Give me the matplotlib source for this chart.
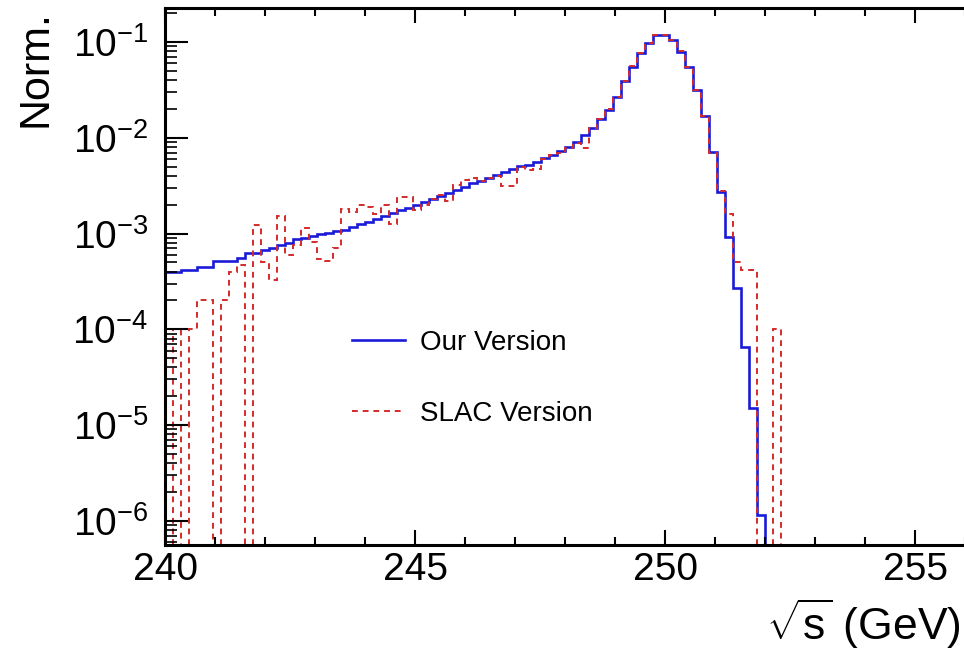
import numpy as np
import matplotlib
matplotlib.use("Agg")
import matplotlib.pyplot as plt
from matplotlib.ticker import MultipleLocator, LogLocator, NullFormatter


# fonts: Helvetica-like look
plt.rcParams['font.family'] = ['Liberation Sans', 'DejaVu Sans']
plt.rcParams['mathtext.fontset'] = 'custom'
plt.rcParams['mathtext.rm'] = 'Liberation Sans'
plt.rcParams['mathtext.default'] = 'regular'
plt.rcParams['axes.unicode_minus'] = False


# binning: 100 bins from 240 to 256 GeV
x_min, x_max, n_bins = 240.0, 256.0, 100
edges = np.linspace(x_min, x_max, n_bins + 1)

# normalised sqrt(s) spectrum (0 = empty bin)
our_version = [
    4.0e-4, 4.0e-4, 4.2e-4, 4.2e-4, 4.5e-4, 4.5e-4, 5.2e-4, 5.2e-4, 5.2e-4, 5.6e-4,
    6.2e-4, 6.3e-4, 6.8e-4, 7.1e-4, 7.6e-4, 7.9e-4, 8.7e-4, 8.9e-4, 9.5e-4, 1.0e-3,
    1.02e-3, 1.05e-3, 1.10e-3, 1.17e-3, 1.26e-3, 1.32e-3, 1.41e-3, 1.51e-3, 1.62e-3, 1.74e-3,
    1.86e-3, 2.00e-3, 2.14e-3, 2.29e-3, 2.45e-3, 2.63e-3, 2.82e-3, 3.09e-3, 3.39e-3, 3.55e-3,
    3.80e-3, 4.07e-3, 4.37e-3, 4.68e-3, 5.01e-3, 5.25e-3, 5.62e-3, 6.17e-3, 6.61e-3, 7.24e-3,
    7.94e-3, 9.12e-3, 1.07e-2, 1.26e-2, 1.55e-2, 1.95e-2, 2.69e-2, 3.89e-2, 5.50e-2, 7.60e-2,
    9.80e-2, 1.18e-1, 1.18e-1, 1.05e-1, 7.9e-2, 5.5e-2, 3.16e-2, 1.70e-2, 7.1e-3, 2.7e-3,
    9.3e-4, 2.7e-4, 6.5e-5, 1.5e-5, 1.15e-6, 0.0, 0.0, 0.0, 0.0, 0.0,
    0.0, 0.0, 0.0, 0.0, 0.0, 0.0, 0.0, 0.0, 0.0, 0.0,
    0.0, 0.0, 0.0, 0.0, 0.0, 0.0, 0.0, 0.0, 0.0, 0.0,
]

slac_version = [
    0.0, 1.0e-4, 0.0, 1.0e-4, 2.0e-4, 2.0e-4, 0.0, 2.0e-4, 4.0e-4, 4.7e-4,
    0.0, 1.23e-3, 5.0e-4, 3.3e-4, 1.51e-3, 6.0e-4, 7.6e-4, 1.15e-3, 8.1e-4, 5.4e-4,
    5.2e-4, 7.1e-4, 1.82e-3, 1.66e-3, 2.0e-3, 1.91e-3, 1.58e-3, 2.0e-3, 1.26e-3, 2.40e-3,
    2.40e-3, 1.74e-3, 2.0e-3, 2.29e-3, 2.51e-3, 2.19e-3, 3.24e-3, 3.63e-3, 3.80e-3, 3.55e-3,
    3.80e-3, 3.98e-3, 3.16e-3, 3.16e-3, 5.0e-3, 4.57e-3, 4.68e-3, 6.0e-3, 6.6e-3, 6.9e-3,
    7.9e-3, 8.9e-3, 7.9e-3, 1.26e-2, 1.55e-2, 1.98e-2, 2.69e-2, 3.9e-2, 5.6e-2, 7.6e-2,
    9.8e-2, 1.18e-1, 1.17e-1, 1.05e-1, 8.0e-2, 5.5e-2, 3.16e-2, 1.70e-2, 7.0e-3, 2.8e-3,
    1.58e-3, 5.0e-4, 4.2e-4, 4.2e-4, 0.0, 0.0, 1.0e-4, 0.0, 0.0, 0.0,
    0.0, 0.0, 0.0, 0.0, 0.0, 0.0, 0.0, 0.0, 0.0, 0.0,
    0.0, 0.0, 0.0, 0.0, 0.0, 0.0, 0.0, 0.0, 0.0, 0.0,
]


def for_log(values):
    # empty bins drop below the frame on a log axis
    v = np.asarray(values, dtype=float)
    return np.where(v > 0, v, 1e-12)


fig = plt.figure(figsize=(9.64, 6.51), dpi=100)
ax = fig.add_axes([0.1712, 0.1628, 0.8299, 0.8249])

ax.stairs(for_log(our_version), edges, baseline=None, color='#1a1ad8', lw=1.9,
          label='Our Version')
ax.stairs(for_log(slac_version), edges, baseline=None, color='#d42a2a', lw=1.4,
          ls=(0, (3, 2.5)), label='SLAC Version')

ax.set_yscale('log')
ax.set_xlim(x_min, x_max)
ax.set_ylim(5.6e-7, 0.226)

ax.xaxis.set_major_locator(MultipleLocator(5))
ax.xaxis.set_minor_locator(MultipleLocator(1))
ax.yaxis.set_minor_locator(LogLocator(base=10, subs=np.arange(2, 10), numticks=20))
ax.yaxis.set_minor_formatter(NullFormatter())

ax.tick_params(which='both', direction='in', top=True, right=False)
ax.tick_params(axis='x', which='major', length=11, width=1.5, labelsize=28, pad=5)
ax.tick_params(axis='x', which='minor', length=5.5, width=1.5)
ax.tick_params(axis='y', which='major', length=16.5, width=1.5, labelsize=28, pad=12)
ax.tick_params(axis='y', which='minor', length=8.5, width=1.2)
for s in ax.spines.values():
    s.set_linewidth(2.2)

ax.set_xlabel(r'$\sqrt{s}$ (GeV)', fontsize=32, loc='right')
ax.xaxis.set_label_coords(0.994, -0.095)
ax.set_ylabel('Norm.', fontsize=31, loc='top')
ax.yaxis.set_label_coords(-0.1375, 0.996)

ax.legend(loc='upper left', bbox_to_anchor=(0.234, 0.4005), frameon=False, fontsize=20,
          handlelength=1.9, handletextpad=0.55, labelspacing=1.62,
          borderpad=0, borderaxespad=0)

fig.savefig('out.png', dpi=100)
